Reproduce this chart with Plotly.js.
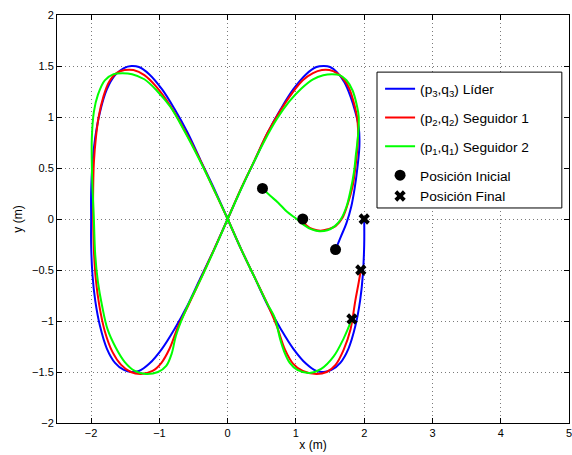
<!DOCTYPE html>
<html>
<head>
<meta charset="utf-8">
<script src="https://cdn.plot.ly/plotly-3.0.1.min.js"></script>
<style>
  html, body { margin: 0; padding: 0; background: #fff; }
  #chart { width: 572px; height: 455px; }
</style>
</head>
<body>
<div id="chart"></div>
<script>
// Leader trajectory (p3, q3)
const leaderX = [1.58, 1.66, 1.74, 1.81, 1.86, 1.90, 1.93, 1.92, 1.87, 1.80, 1.71, 1.60, 1.50, 1.41, 1.30, 1.15,
  0.96, 0.78, 0.59, 0.40, 0.20, 0.00, -0.20, -0.40, -0.59, -0.78, -0.96, -1.15, -1.30, -1.41, -1.52, -1.65,
  -1.77, -1.87, -1.94, -1.98, -2.00, -2.00, -2.00, -1.98, -1.94, -1.87, -1.77, -1.65, -1.52, -1.41, -1.30,
  -1.15, -0.96, -0.78, -0.59, -0.40, -0.20, 0.00, 0.20, 0.40, 0.59, 0.78, 0.96, 1.15, 1.30, 1.41, 1.52, 1.65,
  1.77, 1.87, 1.94, 1.98, 2.00, 2.00];
const leaderY = [-0.30, -0.17, -0.04, 0.12, 0.30, 0.50, 0.72, 0.90, 1.05, 1.20, 1.34, 1.44, 1.49, 1.50, 1.49, 1.42,
  1.27, 1.08, 0.85, 0.58, 0.30, 0.00, -0.30, -0.58, -0.85, -1.08, -1.27, -1.42, -1.49, -1.50, -1.48, -1.41,
  -1.27, -1.05, -0.80, -0.55, -0.25, 0.00, 0.25, 0.55, 0.80, 1.05, 1.27, 1.41, 1.48, 1.50, 1.49,
  1.42, 1.27, 1.08, 0.85, 0.58, 0.30, 0.00, -0.30, -0.58, -0.85, -1.08, -1.27, -1.42, -1.49, -1.50, -1.48, -1.41,
  -1.27, -1.05, -0.80, -0.55, -0.25, 0.00];

// Follower 1 trajectory (p2, q2)
const follower1X = [1.10, 1.15, 1.25, 1.36, 1.47, 1.58, 1.68, 1.76, 1.83, 1.87, 1.90, 1.91, 1.89, 1.84, 1.78, 1.70,
  1.60, 1.49, 1.38, 1.25, 1.10, 0.94, 0.77, 0.58, 0.39, 0.19, 0.00, -0.20, -0.39, -0.58, -0.73, -0.85, -0.97,
  -1.10, -1.27, -1.42, -1.56, -1.69, -1.80, -1.88, -1.93, -1.96, -1.97, -1.97, -1.96, -1.93, -1.89, -1.82,
  -1.74, -1.63, -1.51, -1.38, -1.22, -1.05, -0.85, -0.64, -0.42, -0.21, 0.00, 0.20, 0.40, 0.60, 0.72, 0.84,
  0.96, 1.10, 1.30, 1.45, 1.58, 1.70, 1.80, 1.87, 1.92, 1.95];
const follower1Y = [0.00, -0.06, -0.10, -0.115, -0.10, -0.07, 0.01, 0.15, 0.32, 0.50, 0.70, 0.88, 1.02, 1.16, 1.28, 1.37,
  1.43, 1.46, 1.46, 1.43, 1.36, 1.23, 1.06, 0.84, 0.57, 0.29, 0.00, -0.30, -0.58, -0.85, -1.06, -1.27, -1.41,
  -1.49, -1.52, -1.50, -1.43, -1.30, -1.10, -0.85, -0.60, -0.30, 0.00, 0.30, 0.55, 0.80, 1.00, 1.20,
  1.34, 1.43, 1.46, 1.46, 1.41, 1.30, 1.12, 0.88, 0.60, 0.30, 0.00, -0.30, -0.58, -0.86, -1.05, -1.28,
  -1.42, -1.49, -1.52, -1.50, -1.43, -1.28, -1.08, -0.80, -0.62, -0.50];

// Follower 2 trajectory (p1, q1)
const follower2X = [0.51, 0.62, 0.74, 0.87, 1.01, 1.12, 1.22, 1.34, 1.46, 1.57, 1.66, 1.74, 1.80, 1.85, 1.88, 1.91,
  1.92, 1.89, 1.83, 1.74, 1.64, 1.53, 1.40, 1.25, 1.08, 0.90, 0.72, 0.55, 0.37, 0.18, 0.00, -0.19, -0.38,
  -0.57, -0.68, -0.76, -0.82, -0.90, -1.02, -1.20, -1.36, -1.51, -1.64, -1.76, -1.84, -1.90, -1.94, -1.96,
  -1.98, -1.99, -1.99, -1.96, -1.90, -1.80, -1.67, -1.54, -1.40, -1.22, -1.04, -0.84, -0.64, -0.42, -0.21,
  0.00, 0.20, 0.40, 0.58, 0.69, 0.77, 0.84, 0.91, 1.02, 1.20, 1.37, 1.55, 1.70, 1.82];
const follower2Y = [0.30, 0.23, 0.16, 0.07, 0.00, -0.06, -0.10, -0.12, -0.11, -0.07, 0.00, 0.12, 0.28, 0.46, 0.64, 0.82,
  1.00, 1.12, 1.26, 1.36, 1.41, 1.42, 1.41, 1.37, 1.28, 1.15, 0.98, 0.78, 0.54, 0.27, 0.00, -0.29, -0.57,
  -0.83, -1.00, -1.15, -1.32, -1.44, -1.50, -1.52, -1.49, -1.40, -1.26, -1.08, -0.85, -0.62, -0.35, 0.00,
  0.30, 0.55, 0.79, 1.05, 1.22, 1.36, 1.42, 1.43, 1.42, 1.37, 1.26, 1.10, 0.87, 0.59, 0.30,
  0.00, -0.30, -0.58, -0.83, -0.97, -1.18, -1.32, -1.41, -1.48, -1.51, -1.47, -1.35, -1.17, -0.98];

// Initial and final positions (leader, follower 1, follower 2)
const startX = [1.58, 1.10, 0.51];
const startY = [-0.30, 0.00, 0.30];
const endX = [2.00, 1.95, 1.82];
const endY = [0.00, -0.50, -0.98];

const names = [
  '(p<sub>3</sub>,q<sub>3</sub>) Líder',
  '(p<sub>2</sub>,q<sub>2</sub>) Seguidor 1',
  '(p<sub>1</sub>,q<sub>1</sub>) Seguidor 2',
  'Posición Inicial',
  'Posición Final'
];
const lineColors = ['#0000ff', '#ff0000', '#00ff00'];

const xTicks = [-2, -1, 0, 1, 2, 3, 4, 5];
const yTicks = [-2, -1.5, -1, -0.5, 0, 0.5, 1, 1.5, 2];

const FONT = 'Liberation Sans, Arial, Helvetica, sans-serif';

function pathTrace(x, y, i) {
  return {
    x: x, y: y, name: names[i], type: 'scatter', mode: 'lines',
    legendgroup: 'g' + i,
    line: { color: lineColors[i], width: 2, shape: 'spline', smoothing: 1 },
    hoverinfo: 'skip'
  };
}

const traces = [
  pathTrace(leaderX, leaderY, 0),
  pathTrace(follower1X, follower1Y, 1),
  pathTrace(follower2X, follower2Y, 2),
  {
    x: startX, y: startY, name: names[3], type: 'scatter', mode: 'markers',
    legendgroup: 'pos',
    marker: { symbol: 'circle', size: 11, color: '#000' }
  },
  {
    x: endX, y: endY, name: names[4], type: 'scatter', mode: 'markers',
    legendgroup: 'pos',
    marker: { symbol: 'x', size: 10, color: '#000' }
  }
];

const axisBase = {
  showline: true, linecolor: '#000', linewidth: 1, mirror: 'allticks',
  ticks: 'inside', ticklen: 5, tickcolor: '#000', tickwidth: 1,
  showgrid: true, gridcolor: '#7a7a7a', gridwidth: 1, griddash: '1px,3px',
  zeroline: false, ticklabeloverflow: 'allow',
  tickfont: { family: FONT, size: 11, color: '#000' }
};

const layout = {
  width: 572, height: 455,
  margin: { l: 57, r: 3, t: 15, b: 32 },
  paper_bgcolor: '#fff', plot_bgcolor: '#fff',
  showlegend: true,
  font: { family: FONT, color: '#000' },
  xaxis: Object.assign({}, axisBase, {
    range: [-2.5, 5], tickmode: 'array', tickvals: xTicks,
    title: { text: 'x (m)', font: { family: FONT, size: 12 }, standoff: 2 }
  }),
  yaxis: Object.assign({}, axisBase, {
    range: [-2, 2], tickmode: 'array', tickvals: yTicks,
    title: { text: 'y (m)', font: { family: FONT, size: 12 }, standoff: 6 }
  }),
  // Legend frame, a little wider than the legend's own text block
  shapes: [{
    type: 'rect', xref: 'paper', yref: 'paper', layer: 'above',
    x0: 0.625, x1: 0.986, y0: 0.527, y1: 0.860,
    fillcolor: '#fff', line: { color: '#000', width: 1 }
  }],
  legend: {
    x: 0.631, y: 0.857, xanchor: 'left', yanchor: 'top',
    bgcolor: 'rgba(0,0,0,0)', borderwidth: 0,
    font: { family: FONT, size: 13.7, color: '#000' },
    traceorder: 'grouped', tracegroupgap: 8
  }
};

Plotly.newPlot('chart', traces, layout, { staticPlot: true, displayModeBar: false });
</script>
</body>
</html>
